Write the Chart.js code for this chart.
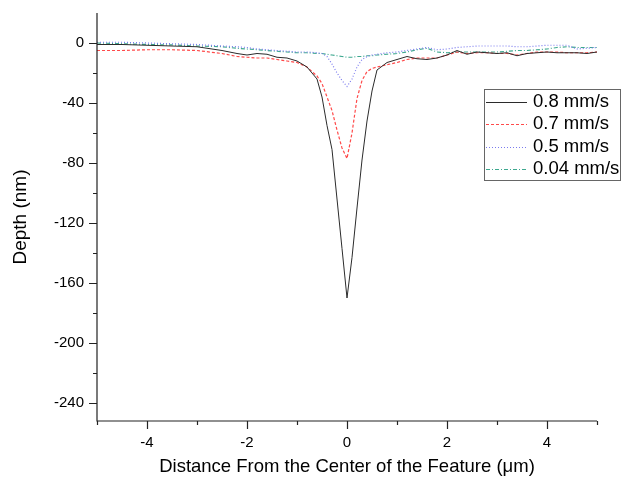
<!DOCTYPE html>
<html>
<head>
<meta charset="utf-8">
<script src="https://cdn.jsdelivr.net/npm/chart.js@4.4.0/dist/chart.umd.min.js"></script>
<style>
  html, body { margin: 0; padding: 0; background: #fff; }
  #wrap { width: 621px; height: 479px; }
</style>
</head>
<body>
<div id="wrap"><canvas id="depth-chart" width="621" height="479"></canvas></div>
<script>
// distance from the feature centre (µm)
const positions = [-5, -4.5, -4, -3.5, -3, -2.5, -2.2, -2, -1.8, -1.6, -1.4, -1.2, -1, -0.8, -0.6, -0.5,
  -0.4, -0.3, -0.2, -0.1, 0, 0.1, 0.2, 0.3, 0.4, 0.5, 0.6, 0.8, 1, 1.2, 1.4, 1.6, 1.8, 2, 2.2, 2.4,
  2.6, 2.8, 3, 3.2, 3.4, 3.6, 3.8, 4, 4.2, 4.4, 4.6, 4.8, 5];

// depth (nm) for each scan speed
const depth08 = [-1, -1, -1.5, -2, -2.5, -5, -7, -8, -7, -7.5, -9.5, -10, -12, -16, -24, -36,
  -55, -71, -104, -137, -170, -143, -110, -78, -52, -32, -18, -13, -11, -9, -10.5, -11, -10, -8, -5, -7.5,
  -6, -6.5, -7, -6.5, -8.5, -7, -6.5, -6, -6.5, -6.5, -6.5, -7, -6];
const depth07 = [-5, -5, -4.5, -4.5, -5, -7, -9, -9.5, -10, -10, -11, -12, -13, -16, -22, -27,
  -36, -45, -58, -70, -77, -60, -37, -25, -19, -17, -16, -14.5, -13, -11, -10, -10, -10, -8, -6, -7,
  -6.5, -6.5, -7, -7, -8, -7, -6, -6, -6, -6.5, -6.5, -6.5, -6];
const depth05 = [0.5, 0.5, 0, -0.5, -1, -2, -2.5, -3, -4, -4.5, -5, -5.5, -6, -6, -6.5, -7,
  -9, -14, -20, -25, -29, -24, -16, -11, -9, -8, -7.5, -6.5, -6, -5, -4, -3, -4.5, -4, -3, -2.5,
  -2, -2, -2, -2, -2.5, -2.5, -2, -1.5, -1.5, -1.5, -4, -3.5, -3];
const depth004 = [0, -0.5, -1, -1.3, -2, -2.5, -3.5, -4, -4.5, -5, -5.5, -6, -6.5, -6.5, -7, -7,
  -7.5, -8, -8.5, -9, -9.5, -9.5, -9, -9, -8.5, -8.5, -8, -7.5, -7, -6, -4.5, -3.5, -6, -6.5, -6, -6,
  -6, -6, -6, -5.5, -5, -5, -4.5, -4, -3, -2.5, -3, -3, -3];

const seriesNames = ['0.8 mm/s', '0.7 mm/s', '0.5 mm/s', '0.04 mm/s'];
const xTicks = [-4, -2, 0, 2, 4];
const yTicks = [-240, -200, -160, -120, -80, -40, 0];

const styles = [
  { color: '#2b2b2b', dash: [], width: 1 },
  { color: '#ff4a4a', dash: [3, 2], width: 1.2 },
  { color: '#7a7aee', dash: [1, 2], width: 1.2 },
  { color: '#3ea88f', dash: [4, 2, 1, 2], width: 1.2 }
];

const FONT = '"Liberation Sans", Arial, sans-serif';

function toPoints(values) {
  return positions.map((x, i) => ({ x: x, y: values[i] }));
}

const allDepths = [depth08, depth07, depth05, depth004];
const datasets = allDepths.map((values, i) => ({
  label: seriesNames[i],
  data: toPoints(values),
  showLine: true,
  borderColor: styles[i].color,
  borderDash: styles[i].dash,
  borderWidth: styles[i].width,
  pointRadius: 0,
  tension: 0,
  fill: false
}));

// axes lines, major/minor ticks and the boxed legend
const frame = {
  id: 'frame',
  afterDatasetsDraw(chart) {
    const c = chart.ctx;
    const xs = chart.scales.x, ys = chart.scales.y;
    const a = chart.chartArea;
    c.save();
    c.strokeStyle = '#222';
    c.lineWidth = 1.2;
    c.setLineDash([]);
    c.beginPath();
    c.moveTo(a.left, a.top);
    c.lineTo(a.left, a.bottom);
    c.lineTo(a.right, a.bottom);
    c.stroke();

    c.beginPath();
    for (let v = -240; v <= 0; v += 20) {
      const y = Math.round(ys.getPixelForValue(v)) + 0.5;
      const len = v % 40 === 0 ? 8 : 4;
      c.moveTo(a.left, y);
      c.lineTo(a.left - len, y);
    }
    for (let v = -5; v <= 5; v += 1) {
      const x = Math.round(xs.getPixelForValue(v)) + 0.5;
      const len = v % 2 === 0 ? 8 : 4;
      c.moveTo(x, a.bottom);
      c.lineTo(x, a.bottom + len);
    }
    c.stroke();

    // legend
    const bx = 484, by = 89, bw = 136, bh = 91;
    c.fillStyle = '#fff';
    c.fillRect(bx, by, bw, bh);
    c.strokeStyle = '#666';
    c.lineWidth = 1;
    c.strokeRect(bx + 0.5, by + 0.5, bw, bh);
    c.font = '18.5px ' + FONT;
    c.textBaseline = 'middle';
    seriesNames.forEach((name, i) => {
      const y = by + 13 + i * 22.4;
      c.strokeStyle = styles[i].color;
      c.lineWidth = styles[i].width;
      c.setLineDash(styles[i].dash);
      c.beginPath();
      c.moveTo(bx + 2, Math.round(y) + 0.5);
      c.lineTo(bx + 43, Math.round(y) + 0.5);
      c.stroke();
      c.fillStyle = '#000';
      c.fillText(name, bx + 49, y);
    });
    c.restore();
  }
};

new Chart(document.getElementById('depth-chart').getContext('2d'), {
  type: 'scatter',
  data: { datasets: datasets },
  options: {
    responsive: false,
    animation: false,
    layout: { padding: { top: 13, right: 24, left: 0, bottom: 0 } },
    plugins: {
      legend: { display: false },
      tooltip: { enabled: false }
    },
    scales: {
      x: {
        type: 'linear',
        min: -5,
        max: 5,
        grid: { display: false, drawTicks: false },
        border: { display: false },
        afterBuildTicks: s => { s.ticks = xTicks.map(v => ({ value: v })); },
        afterFit: s => { s.height = 58; s.paddingLeft = 0; s.paddingRight = 0; },
        ticks: { color: '#000', padding: 13, maxRotation: 0, font: { family: FONT, size: 15 } },
        title: {
          display: true,
          text: 'Distance From the Center of the Feature (\u03bcm)',
          color: '#000',
          padding: { top: 0, bottom: 1 },
          font: { family: FONT, size: 18.5 }
        }
      },
      y: {
        type: 'linear',
        min: -252,
        max: 20,
        grid: { display: false, drawTicks: false },
        border: { display: false },
        afterBuildTicks: s => { s.ticks = yTicks.map(v => ({ value: v })); },
        afterFit: s => { s.width = 97; s.paddingTop = 0; s.paddingBottom = 0; },
        ticks: { color: '#000', padding: 13, font: { family: FONT, size: 15 } },
        title: {
          display: true,
          text: 'Depth (nm)',
          color: '#000',
          padding: { top: 9, bottom: 0 },
          font: { family: FONT, size: 19 }
        }
      }
    }
  },
  plugins: [frame]
});
</script>
</body>
</html>
